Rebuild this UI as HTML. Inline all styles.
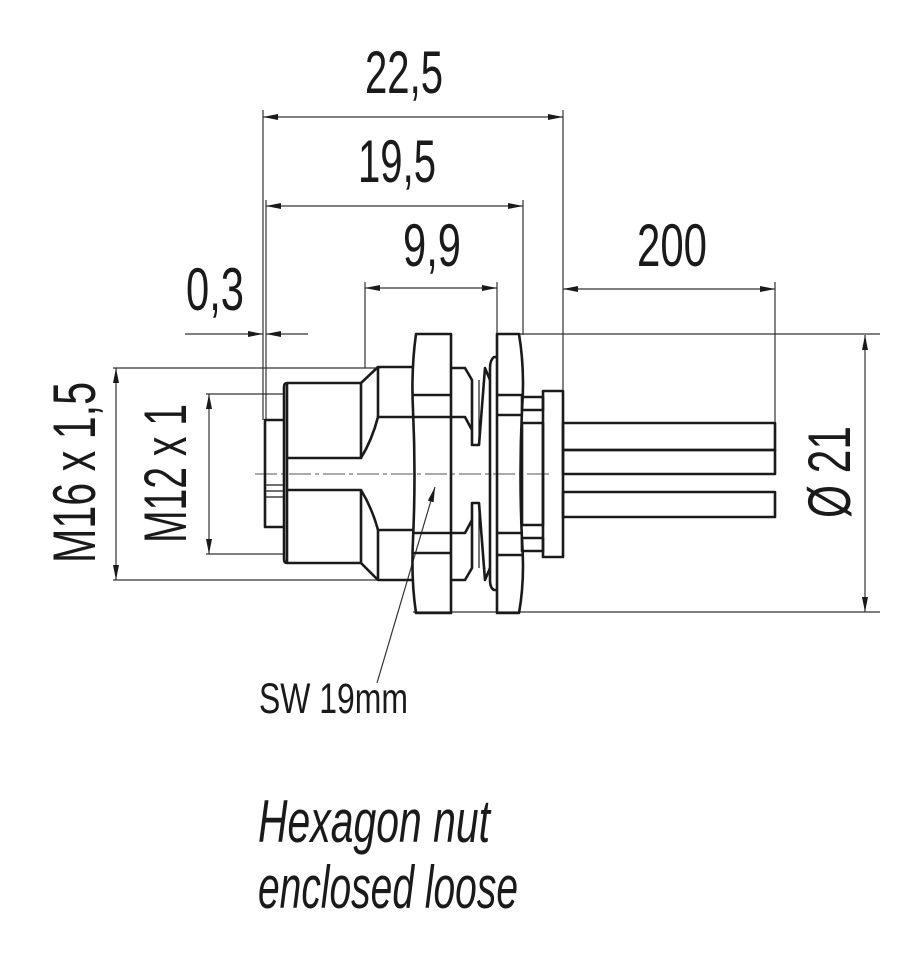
<!DOCTYPE html>
<html><head><meta charset="utf-8"><style>
html,body{margin:0;padding:0;background:#fff;}
svg{display:block;}
text{font-family:"Liberation Sans",sans-serif;fill:#1a1a1a;}
</style></head><body>
<svg width="920" height="960" viewBox="0 0 920 960" xmlns="http://www.w3.org/2000/svg">
<defs>
<marker id="a" viewBox="0 0 10 4" refX="10" refY="2" markerWidth="16" markerHeight="6" markerUnits="userSpaceOnUse" orient="auto-start-reverse"><path d="M0,0 L10,2 L0,4 z" fill="#1a1a1a"/></marker>
</defs>
<g stroke="#333" stroke-width="1.2" fill="none">
<line x1="263" y1="110" x2="263" y2="420"/>
<line x1="266" y1="200" x2="266" y2="420"/>
<line x1="365" y1="282" x2="365" y2="368"/>
<line x1="497" y1="282" x2="497" y2="335"/>
<line x1="523" y1="200" x2="523" y2="335"/>
<line x1="563" y1="110" x2="563" y2="391"/>
<line x1="775" y1="282" x2="775" y2="423"/>
<line x1="497" y1="334" x2="880" y2="334"/>
<line x1="413" y1="612" x2="880" y2="612"/>
<line x1="113" y1="368" x2="380" y2="368"/>
<line x1="113" y1="580" x2="380" y2="580"/>
<line x1="206" y1="394" x2="285" y2="394"/>
<line x1="206" y1="554" x2="285" y2="554"/>
<line x1="263" y1="117" x2="563" y2="117" marker-start="url(#a)" marker-end="url(#a)"/>
<line x1="266" y1="206" x2="523" y2="206" marker-start="url(#a)" marker-end="url(#a)"/>
<line x1="365" y1="288" x2="497" y2="288" marker-start="url(#a)" marker-end="url(#a)"/>
<line x1="563" y1="289" x2="775" y2="289" marker-start="url(#a)" marker-end="url(#a)"/>
<line x1="185" y1="334" x2="263" y2="334" marker-end="url(#a)"/>
<line x1="308" y1="334" x2="266" y2="334" marker-end="url(#a)"/>
<line x1="865" y1="335" x2="865" y2="612" marker-start="url(#a)" marker-end="url(#a)"/>
<line x1="116" y1="368" x2="116" y2="580" marker-start="url(#a)" marker-end="url(#a)"/>
<line x1="209" y1="394" x2="209" y2="554" marker-start="url(#a)" marker-end="url(#a)"/>
<line x1="377" y1="683" x2="435" y2="487" marker-end="url(#a)"/>
</g>
<line x1="255" y1="474" x2="552" y2="474" stroke="#777" stroke-width="1.2" stroke-dasharray="22,4,4,4"/>
<g stroke="#1a1a1a" stroke-width="2.6" fill="none" stroke-linejoin="round">
<path d="M285,420 H265 V527 H285"/>
<line x1="265" y1="485" x2="285" y2="485" stroke-width="1.2"/>
<line x1="265" y1="491" x2="285" y2="491" stroke-width="1.2"/>
<line x1="265" y1="497" x2="285" y2="497" stroke-width="1.2"/>
<path d="M287,383 Q284,383 284,387 V559 Q284,563 287,563"/>
<line x1="287" y1="383" x2="287" y2="563"/>
<path d="M287,383 H361 V458 H287"/>
<path d="M287,490 H361 V563 H287"/>
<path d="M361,383 L378,367 H413"/>
<path d="M361,563 L378,580 H413"/>
<path d="M361,458 Q372,440 378,417 H413"/>
<path d="M361,490 Q372,508 378,530 H413"/>
<line x1="378" y1="367" x2="378" y2="417"/>
<line x1="378" y1="530" x2="378" y2="580"/>
<path d="M416,334 H451 V613 H416 Q411,580 413,540 Q416,474 413,410 Q411,370 416,334 z"/>
<line x1="413" y1="395" x2="451" y2="395"/>
<line x1="413" y1="417" x2="451" y2="417"/>
<line x1="413" y1="533" x2="451" y2="533"/>
<line x1="413" y1="553" x2="451" y2="553"/>
<!-- grooves -->
<path d="M451,368 H465 L472,380 V445 H479 L485,368 L490,380"/>
<path d="M451,417 H465 L472,430"/>
<path d="M451,580 H465 L472,568 V503 H479 L485,580 L490,568"/>
<path d="M451,533 H465 L472,520"/>
<line x1="479" y1="380" x2="479" y2="445" stroke-width="1.2"/>
<line x1="479" y1="503" x2="479" y2="568" stroke-width="1.2"/>
<path d="M497,357 H494 Q490,360 490,368 V580 Q490,588 494,590 H497"/>
<path d="M497,334 H519 Q525,370 522,410 Q519,474 522,540 Q525,580 519,613 H497 z"/>
<line x1="497" y1="395" x2="522" y2="395"/>
<line x1="497" y1="415" x2="522" y2="415"/>
<line x1="497" y1="533" x2="522" y2="533"/>
<line x1="497" y1="555" x2="522" y2="555"/>
<rect x="522" y="397" width="21" height="13"/>
<rect x="522" y="538" width="21" height="13"/>
<rect x="522" y="423" width="21" height="102"/>
<rect x="543" y="391" width="20" height="166"/>
<rect x="563" y="423" width="212" height="27"/>
<rect x="563" y="450" width="212" height="24"/>
<rect x="563" y="492" width="212" height="25"/>
</g>
<text x="365" y="93" font-size="60" textLength="78" lengthAdjust="spacingAndGlyphs">22,5</text>
<text x="358" y="182" font-size="60" textLength="78" lengthAdjust="spacingAndGlyphs">19,5</text>
<text x="403" y="266" font-size="60" textLength="58" lengthAdjust="spacingAndGlyphs">9,9</text>
<text x="186" y="310" font-size="60" textLength="58" lengthAdjust="spacingAndGlyphs">0,3</text>
<text x="637" y="266" font-size="60" textLength="70" lengthAdjust="spacingAndGlyphs">200</text>
<text transform="translate(850,518) rotate(-90)" font-size="60" textLength="92" lengthAdjust="spacingAndGlyphs">Ø 21</text>
<text transform="translate(95,563) rotate(-90)" font-size="60" textLength="181" lengthAdjust="spacingAndGlyphs">M16 x 1,5</text>
<text transform="translate(186,543) rotate(-90)" font-size="60" textLength="139" lengthAdjust="spacingAndGlyphs">M12 x 1</text>
<text x="259" y="713" font-size="43" textLength="149" lengthAdjust="spacingAndGlyphs">SW 19mm</text>
<text x="258" y="842" font-size="60" font-style="italic" textLength="232" lengthAdjust="spacingAndGlyphs">Hexagon nut</text>
<text x="258" y="908" font-size="60" font-style="italic" textLength="260" lengthAdjust="spacingAndGlyphs">enclosed loose</text>
</svg>
</body></html>
